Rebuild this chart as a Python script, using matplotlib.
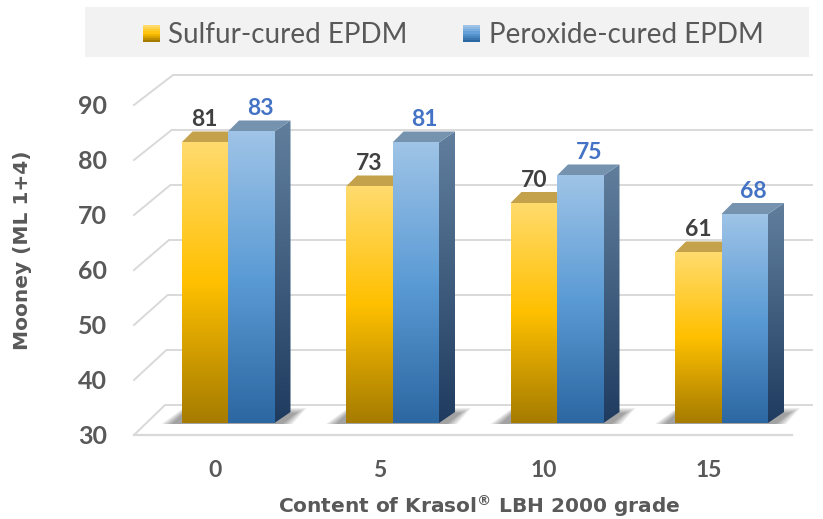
import numpy as np
import matplotlib.pyplot as plt
from matplotlib.patches import Polygon, Rectangle
from matplotlib.colors import LinearSegmentedColormap

# data
contents = ['0', '5', '10', '15']
sulfur = [81, 73, 70, 61]
peroxide = [83, 81, 75, 68]
names = ['Sulfur-cured EPDM', 'Peroxide-cured EPDM']
yticks = [30, 40, 50, 60, 70, 80, 90]
ymin = 30

fig = plt.figure(figsize=(8.23, 5.19), dpi=100)
ax = fig.add_axes([0, 0, 1, 1])
ax.axis('off')

# pixel sizes of one category step and one Mooney unit
GP = 164.5
VP = 5.5
def px(p):
    return p / GP
def pv(p):
    return p / VP

yel_cm = LinearSegmentedColormap.from_list('yel', [(0, '#A67C00'), (0.2, '#C89600'), (0.5, '#FFC000'), (1, '#FFDB6E')])
blu_cm = LinearSegmentedColormap.from_list('blu', [(0, '#2C67A2'), (0.5, '#5B9BD5'), (1, '#9FC4E7')])
side_cm = LinearSegmentedColormap.from_list('side', [(0, '#1F3C60'), (1, '#617F9D')])
grad = np.linspace(0, 1, 256).reshape(-1, 1)

def shade(verts, cmap, z):
    poly = Polygon(verts, closed=True, facecolor='none', edgecolor='none')
    ax.add_patch(poly)
    xs = [v[0] for v in verts]
    ys = [v[1] for v in verts]
    im = ax.imshow(grad, cmap=cmap, origin='lower', aspect='auto', zorder=z,
                   extent=[min(xs), max(xs), min(ys), max(ys)], interpolation='bilinear')
    im.set_clip_path(poly)

grid_c = '#D9D9D9'
front_x = -px(228 - 134)
right_x = px(812 - 228)
for v in yticks:
    back_x = -px(228 - 165 - (v - 30) / 60 * 8)
    ax.plot([front_x, back_x, right_x], [v, v + pv(30), v + pv(30)], color=grid_c, lw=1.4, zorder=1)
    ax.text(-px(228 - 107), v - pv(9), str(v), ha='right', va='baseline', fontsize=18,
            fontweight='bold', color='#595959', family='Lato')
ax.plot([front_x, px(792 - 228)], [ymin, ymin], color=grid_c, lw=1.6, zorder=1)

bw = px(46.5)
lift = pv(12)
base = ymin + lift
tdy = pv(11)
dxl = px(11)
dxr = px(16)

for i, (s, p) in enumerate(zip(sulfur, peroxide)):
    xy = i - bw
    xb = i
    # soft floor shadow
    for k in range(6):
        e = 6 - k
        sh = [(xy - px(8 + 2 * e), base - pv(1)), (xb + bw + px(6 + 2 * e), base - pv(1)),
              (xb + bw + px(20 + 2 * e), base + pv(9 + e)), (xy + px(2), base + pv(9 + e))]
        ax.add_patch(Polygon(sh, closed=True, facecolor='black', edgecolor='none', alpha=0.07, zorder=2))
    t = s + lift
    ax.add_patch(Polygon([(xy, t), (xy + bw, t), (xy + bw + dxr, t + tdy), (xy + dxl, t + tdy)],
                         closed=True, facecolor='#C4A14B', edgecolor='none', zorder=3))
    shade([(xy, base), (xy + bw, base), (xy + bw, t), (xy, t)], yel_cm, 4)
    t2 = p + lift
    shade([(xb + bw, base), (xb + bw, t2), (xb + bw + dxr, t2 + tdy), (xb + bw + dxr, base + tdy)], side_cm, 5)
    ax.add_patch(Polygon([(xb, t2), (xb + bw, t2), (xb + bw + dxr, t2 + tdy), (xb + dxl, t2 + tdy)],
                         closed=True, facecolor='#7592AE', edgecolor='none', zorder=6))
    shade([(xb, base), (xb + bw, base), (xb + bw, t2), (xb, t2)], blu_cm, 7)
    ax.text(xy + bw / 2, t + pv(16), str(s), ha='center', va='baseline', fontsize=16.5,
            fontweight='bold', color='#404040', family='Lato', zorder=8)
    ax.text(xb + bw / 2 + px(9), t2 + pv(16), str(p), ha='center', va='baseline', fontsize=16.5,
            fontweight='bold', color='#4472C4', family='Lato', zorder=8)
    ax.text(i - px(13), ymin - pv(42), contents[i], ha='center', va='baseline', fontsize=16.5,
            fontweight='bold', color='#595959', family='Lato')

ax.set_xlim(-px(228), px(823 - 228))
ax.set_ylim(90 - pv(519 - 105), 90 + pv(105))

# axis titles
fig.text(479 / 823, 1 - 513 / 519, r'Content of Krasol$^{\mathregular{®}}$ LBH 2000 grade', ha='center',
         va='baseline', fontsize=14.5, fontweight='bold', color='#595959', family='DejaVu Sans')
fig.text(23 / 823, 1 - 250 / 519, 'Mooney (ML 1+4)', ha='center', va='center', rotation=90,
         fontsize=14.5, fontweight='bold', color='#595959', family='DejaVu Sans')

# legend box
W, H = 823, 519
fig.add_artist(Rectangle((85 / W, 1 - 57 / H), (809 - 85) / W, 50 / H, transform=fig.transFigure,
                         facecolor='#F2F2F2', edgecolor='none', zorder=0))
for mx, tx, cm, name in [(143, 168, yel_cm, names[0]), (463, 489, blu_cm, names[1])]:
    n = 8
    for k in range(n):
        fig.add_artist(Rectangle((mx / W, 1 - (42 - 17 * k / n) / H), 17 / W, 17 / n / H + 0.0005,
                                 transform=fig.transFigure, facecolor=cm(k / (n - 1)), edgecolor='none'))
    fig.text(tx / W, 1 - 43 / H, name, ha='left', va='baseline', fontsize=20, color='#595959', family='Lato')

fig.savefig('out.png', dpi=100)
